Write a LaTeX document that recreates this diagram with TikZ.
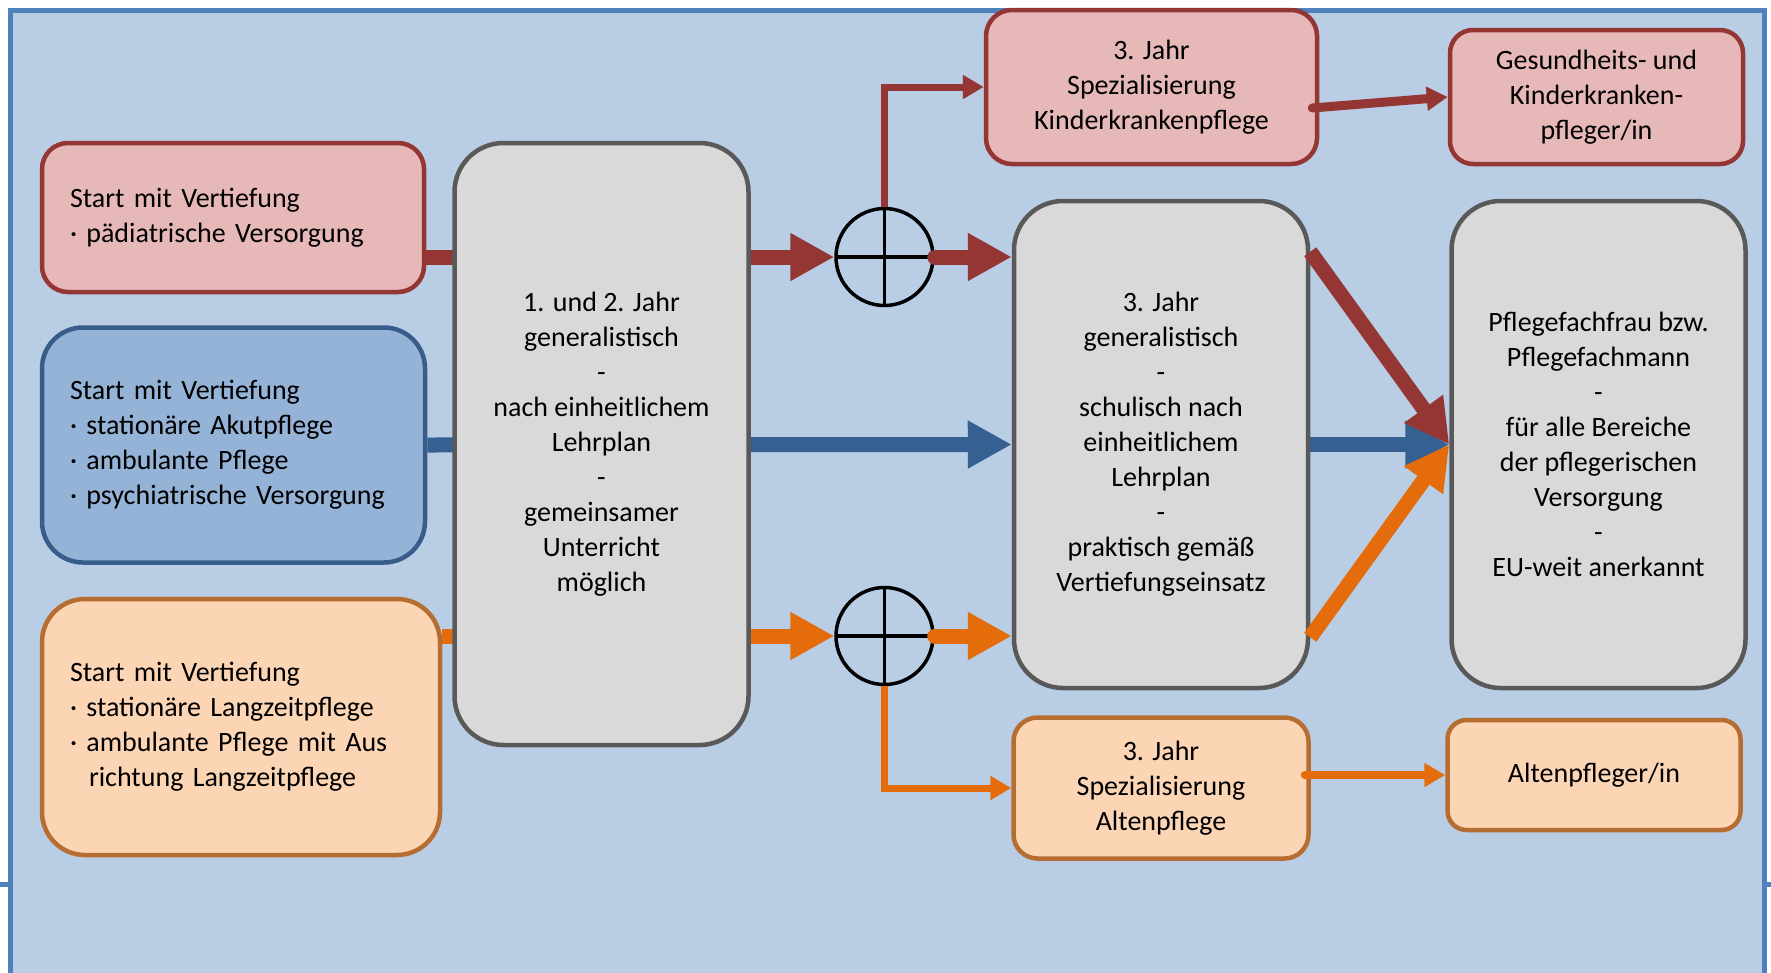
\documentclass[tikz,border=0pt]{standalone}
\usepackage{fontspec}
\setmainfont{Carlito}
\usepackage{tikz}
\usetikzlibrary{positioning}
\usetikzlibrary{arrows.meta}
\usetikzlibrary{calc}

\definecolor{rahmen}{HTML}{4F81BD}
\definecolor{hinter}{HTML}{B9CDE5}
\definecolor{rotfill}{HTML}{E6B9B8}
\definecolor{rotline}{HTML}{943634}
\definecolor{blaufill}{HTML}{95B3D7}
\definecolor{blauline}{HTML}{385D8A}
\definecolor{blaupfeil}{HTML}{366092}
\definecolor{orfill}{HTML}{FCD5B5}
\definecolor{orline}{HTML}{B66D31}
\definecolor{orpfeil}{HTML}{E46C0A}
\definecolor{graufill}{HTML}{D9D9D9}
\definecolor{grauline}{HTML}{595959}

\begin{document}
\begin{tikzpicture}[x=1pt, y=-1pt,
						every node/.style={font=\fontsize{28}{35}\selectfont,
							inner sep=0pt, line width=4.5pt},
						rotbox/.style={draw=rotline, fill=rotfill, align=center},
						blaubox/.style={draw=blauline, fill=blaufill},
						orbox/.style={draw=orline, fill=orfill, align=center},
						graubox/.style={draw=grauline, fill=graufill, align=center,
							rounded corners=49pt, minimum width=294pt, minimum height=487pt},
						startbox/.style={inner xsep=28pt, align=left},
						kreis/.style={circle, draw=black, line width=3.5pt, minimum size=97pt,
							path picture={
								\draw [line width=4pt] (path picture bounding box.west)
									-- (path picture bounding box.east);
								\draw [line width=3pt] (path picture bounding box.north)
									-- (path picture bounding box.south);}},
						dick/.style={line width=15pt, -{Triangle[width=45pt, length=44pt]}},
						duenn/.style={line width=7pt, -{Triangle[width=23pt, length=21pt]}}]
		\useasboundingbox (0,0) rectangle (1771,972);
		\clip (0,0) rectangle (1771,972);
		\draw [draw=rahmen, fill=hinter, line width=5pt] (10.5,10.5) rectangle (1764.5,1010);
		\draw [rahmen, line width=5pt] (0,884) -- (8,884) (1767,884) -- (1771,884);

		\node [rotbox, startbox, rounded corners=26pt, minimum height=149pt, text width=326pt]
			(s1) at (233,217.5) {Start mit Vertiefung\\· pädiatrische Versorgung};
		\node [blaubox, startbox, rounded corners=41pt, minimum height=235pt, text width=327pt,
				below=31pt of s1.south west, anchor=north west]
			(s2) {Start mit Vertiefung\\· stationäre Akutpflege\\· ambulante Pflege\\%
				· psychiatrische Versorgung};
		\node [orbox, startbox, align=left, rounded corners=43pt, minimum height=256pt, text width=342pt,
				below=32pt of s2.south west, anchor=north west]
			(s3) {Start mit Vertiefung\\· stationäre Langzeitpflege\\%
				· ambulante Pflege mit Aus\\\hspace*{19pt}richtung Langzeitpflege};

		\node [kreis] (c1) at (884.5,257) {};
		\node [kreis] (c2) at (884.5,636) {};

		\node [graubox] (g2) at (1161,444.5) {3. Jahr\\generalistisch\\-\\schulisch nach\\%
			einheitlichem\\Lehrplan\\-\\praktisch gemäß\\Vertiefungseinsatz};
		\node [graubox, right=139pt of g2] (g3) {Pflegefachfrau bzw.\\Pflegefachmann\\-\\%
			für alle Bereiche\\der pflegerischen\\Versorgung\\-\\EU-weit anerkannt};
		\node [rotbox, rounded corners=26pt, minimum width=331pt, minimum height=154pt]
			(k1) at (1151.5,87) {3. Jahr\\Spezialisierung\\Kinderkrankenpflege};
		\node [rotbox, rounded corners=23pt, minimum width=293pt, minimum height=134pt]
			(k2) at (1596.5,97) {Gesundheits- und\\Kinderkranken-\\pfleger/in};
		\node [orbox, rounded corners=24pt, minimum width=295pt, minimum height=141pt,
				below=25pt of g2]
			(a1) {3. Jahr\\Spezialisierung\\Altenpflege};
		\node [orbox, rounded corners=19pt, minimum width=293pt, minimum height=110pt]
			(a2) at (1594,775) {Altenpfleger/in};

		\draw [dick, rotline] (s1.east |- c1) -- (c1.west);
		\draw [dick, blaupfeil] (s2.east) -- (g2.west);
		\draw [dick, orpfeil] (s3.east |- c2) -- (c2.west);

		\node [graubox, rounded corners=49pt, minimum height=602pt,
				right=26pt of s1.north east, anchor=north west]
			(g1) {1. und 2. Jahr\\generalistisch\\-\\nach einheitlichem\\Lehrplan\\-\\%
				gemeinsamer\\Unterricht\\möglich};

		\path [dick, line cap=round]
			(c1.east) edge [rotline] (g2.west |- c1)
			(c2.east) edge [orpfeil] (g2.west |- c2);
		\draw [duenn, rotline] (c1.north) |- (k1.west);
		\draw [duenn, orpfeil] (c2.south) |- (a1.west);
		\draw [duenn, rotline, line width=9pt, line cap=round]
			($(k1.east)+(-7,21)$) -- (k2.west);
		\draw [duenn, orpfeil, line width=8pt, line cap=round]
			($(a1.east |- a2.west)+(-6,0)$) -- (a2.west);
		\path [dick]
			(g2.east) edge [blaupfeil] (g3.west)
			([yshift=-53pt]g2.north east) edge [rotline] (g3.west)
			([yshift=53pt]g2.south east) edge [orpfeil] (g3.west);
	\end{tikzpicture}
\end{document}
